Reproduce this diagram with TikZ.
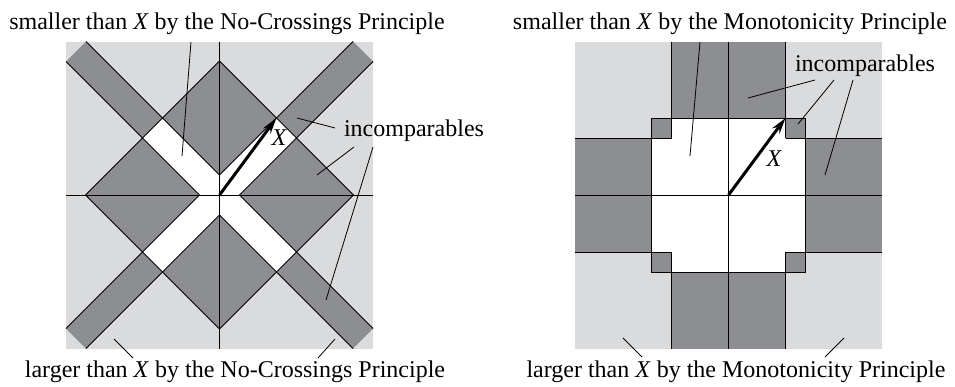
\documentclass[tikz,border=0pt]{standalone}
\usepackage{fontspec}
\setmainfont{Liberation Serif}
\usetikzlibrary{arrows.meta}
\definecolor{lightg}{HTML}{DADBDD}
\definecolor{darkg}{HTML}{8D8E92}
\begin{document}
\begin{tikzpicture}[x=1pt,y=-1pt,
  edge/.style={line width=1pt, black},
  ptr/.style={line width=0.8pt, black},
  lbl/.style={font=\fontsize{24}{28}\selectfont, inner sep=0pt, anchor=base},
  xlbl/.style={font=\fontsize{24}{28}\selectfont\itshape, inner sep=0pt},
  vec/.style={line width=3pt, -{Stealth[length=16pt,width=9pt]}}]
\useasboundingbox (0,0) rectangle (955,386);

% ---------------- left panel ----------------
\begin{scope}[shift={(219.5,195)}, yscale=-1]
  \fill[lightg] (-153.5,-153.5) rectangle (153.5,153.5);
  \begin{scope}
    \clip (-153.5,-153.5) rectangle (153.5,153.5);
    \fill[darkg] (-153.5,-133.5) -- (-133.5,-153.5) -- (153.5,133.5) -- (133.5,153.5) -- cycle;
    \fill[darkg] (-153.5,133.5) -- (-133.5,153.5) -- (153.5,-133.5) -- (133.5,-153.5) -- cycle;
  \end{scope}
  \fill[darkg] (0,134) -- (134,0) -- (0,-134) -- (-134,0) -- cycle;
  \begin{scope}
    \clip (0,134) -- (134,0) -- (0,-134) -- (-134,0) -- cycle;
    \fill[white] (-153.5,-133.5) -- (-133.5,-153.5) -- (153.5,133.5) -- (133.5,153.5) -- cycle;
    \fill[white] (-153.5,133.5) -- (-133.5,153.5) -- (153.5,-133.5) -- (133.5,-153.5) -- cycle;
  \end{scope}
  \draw[edge] (0,134) -- (134,0) -- (0,-134) -- (-134,0) -- cycle;
  \draw[edge] (-153.5,-133.5) -- (-20,0) (0,20) -- (133.5,153.5);
  \draw[edge] (-133.5,-153.5) -- (0,-20) (20,0) -- (153.5,133.5);
  \draw[edge] (-133.5,153.5) -- (0,20) (20,0) -- (153.5,-133.5);
  \draw[edge] (-153.5,133.5) -- (-20,0) (0,-20) -- (133.5,-153.5);
  \draw[edge] (0,-153.5) -- (0,153.5) (-153.5,0) -- (153.5,0);
  \coordinate (OL) at (0,0);
  \coordinate (XL) at (57,77);
  \draw[vec] (OL) -- (XL);
\end{scope}

% ---------------- right panel ----------------
\begin{scope}[shift={(728.5,195)}, yscale=-1]
  \fill[lightg] (-153.5,-153.5) rectangle (153.5,153.5);
  \fill[darkg] (-57,-153.5) rectangle (57,153.5);
  \fill[darkg] (-153.5,-57) rectangle (153.5,57);
  \fill[darkg] (-77,-77) rectangle (77,77);
  \fill[white] (-57,-77) rectangle (57,77);
  \fill[white] (-77,-57) rectangle (77,57);
  \draw[edge] (-77,-77) rectangle (77,77);
  \draw[edge] (-57,57) -- (-57,153.5) (57,57) -- (57,153.5)
              (-57,-57) -- (-57,-153.5) (57,-57) -- (57,-153.5);
  \draw[edge] (57,57) -- (153.5,57) (57,-57) -- (153.5,-57)
              (-57,57) -- (-153.5,57) (-57,-57) -- (-153.5,-57);
  \draw[edge] (0,-153.5) -- (0,153.5) (-153.5,0) -- (153.5,0);
  \coordinate (OR) at (0,0);
  \coordinate (XR) at (57,77);
  \draw[vec] (OR) -- (XR);
\end{scope}

% ---------------- labels ----------------
\node[xlbl] (xL) at (279,138) {X};
\node[xlbl] (xR) at (774,159) {X};

\node[lbl] (topL) at (227,29) {smaller than \textit{X} by the No-Crossings Principle};
\node[lbl] (botL) at (235,377) {larger than \textit{X} by the No-Crossings Principle};
\node[lbl] (topR) at (730,29) {smaller than \textit{X} by the Monotonicity Principle};
\node[lbl] (botR) at (736,377) {larger than \textit{X} by the Monotonicity Principle};
\node[lbl] (incL) at (414,136) {incomparables};
\node[lbl] (incR) at (865,71) {incomparables};

% pointer coordinates
\coordinate (tL1) at (191,42);   \coordinate (tL2) at (182,156);
\coordinate (iL1a) at (335,128); \coordinate (iL1b) at (297,118);
\coordinate (iL2a) at (354,147); \coordinate (iL2b) at (317,175);
\coordinate (iL3a) at (373,147); \coordinate (iL3b) at (326,300);
\coordinate (bL1a) at (133,358); \coordinate (bL1b) at (114,339);
\coordinate (bL2a) at (318,358); \coordinate (bL2b) at (335,339);
\coordinate (tR1) at (700,42);   \coordinate (tR2) at (690,156);
\coordinate (iR1a) at (815,80);  \coordinate (iR1b) at (748,98);
\coordinate (iR2a) at (834,80);  \coordinate (iR2b) at (798,124);
\coordinate (iR3a) at (853,80);  \coordinate (iR3b) at (825,175);
\coordinate (bR1a) at (642,357); \coordinate (bR1b) at (623,338);
\coordinate (bR2a) at (825,357); \coordinate (bR2b) at (844,338);

\draw[ptr] (tL1) -- (tL2);
\draw[ptr] (iL1a) -- (iL1b);
\draw[ptr] (iL2a) -- (iL2b);
\draw[ptr] (iL3a) -- (iL3b);
\draw[ptr] (bL1a) -- (bL1b);
\draw[ptr] (bL2a) -- (bL2b);
\draw[ptr] (tR1) -- (tR2);
\draw[ptr] (iR1a) -- (iR1b);
\draw[ptr] (iR2a) -- (iR2b);
\draw[ptr] (iR3a) -- (iR3b);
\draw[ptr] (bR1a) -- (bR1b);
\draw[ptr] (bR2a) -- (bR2b);
\end{tikzpicture}
\end{document}
